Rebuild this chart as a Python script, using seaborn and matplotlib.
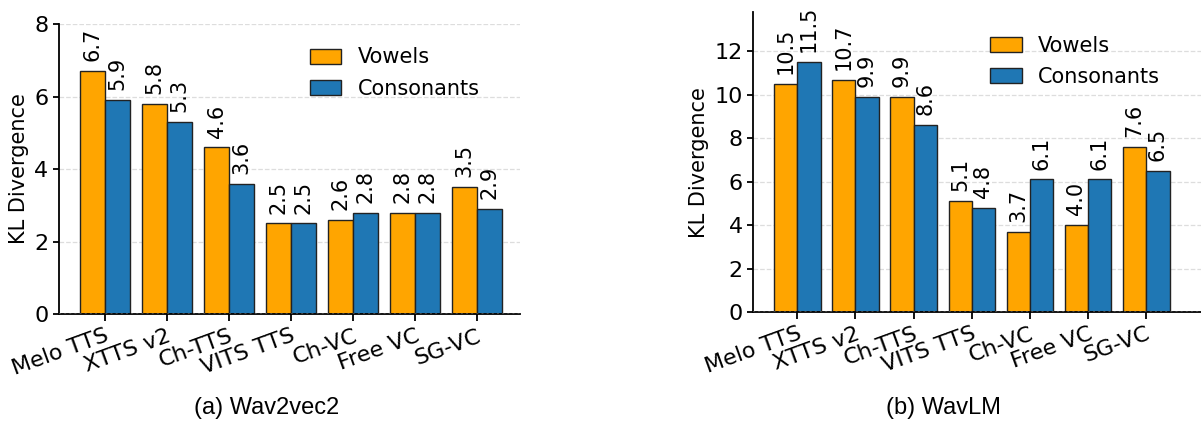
import pandas as pd
import numpy as np
import seaborn as sns
import matplotlib.pyplot as plt

# data
models = ['Melo TTS', 'XTTS v2', 'Ch-TTS', 'VITS TTS', 'Ch-VC', 'Free VC', 'SG-VC']
w2v_vowels = [6.7, 5.8, 4.6, 2.5, 2.6, 2.8, 3.5]
w2v_consonants = [5.9, 5.3, 3.6, 2.5, 2.8, 2.8, 2.9]
wavlm_vowels = [10.5, 10.7, 9.9, 5.1, 3.7, 4.0, 7.6]
wavlm_consonants = [11.5, 9.9, 8.6, 4.8, 6.1, 6.1, 6.5]
captions = ['(a) Wav2vec2', '(b) WavLM']

sns.set_style("ticks")
plt.rcParams['font.family'] = ['DejaVu Sans']
plt.rcParams['axes.linewidth'] = 1.3
plt.rcParams['xtick.major.width'] = 1.3
plt.rcParams['ytick.major.width'] = 1.3
plt.rcParams['xtick.major.size'] = 5
plt.rcParams['ytick.major.size'] = 4
plt.rcParams['xtick.color'] = 'black'
plt.rcParams['ytick.color'] = 'black'
plt.rcParams['axes.edgecolor'] = 'black'
plt.rcParams['text.color'] = 'black'
plt.rcParams['axes.labelcolor'] = 'black'

palette = {'Vowels': '#FFA500', 'Consonants': '#1F77B4'}


def make_df(vowels, consonants):
	df = pd.DataFrame({'model': models * 2,
		'type': ['Vowels'] * len(models) + ['Consonants'] * len(models),
		'kl': vowels + consonants})
	return df


def draw_panel(ax, df, ylim, yticks, xlim, legend_anchor):
	sns.barplot(data=df, x='model', y='kl', hue='type', palette=palette,
		width=0.8, edgecolor='#222222', linewidth=1.0, saturation=1, ax=ax, errorbar=None)
	ax.set_ylim(ylim)
	ax.set_xlim(xlim)
	ax.set_yticks(yticks)
	ax.yaxis.grid(True, linestyle='--', color='#DDDDDD', linewidth=0.9)
	ax.set_axisbelow(True)
	for c in ax.containers:
		ax.bar_label(c, fmt='%.1f', rotation=90, padding=7, fontsize=15, color='black')
	ax.axhline(0, color='#444444', linestyle=':', linewidth=1.4, zorder=5)
	sns.despine(ax=ax)
	ax.set_xlabel('')
	ax.set_ylabel('KL Divergence', fontsize=15)
	ax.tick_params(axis='y', labelsize=16)
	ax.set_xticks(range(len(models)))
	ax.set_xticklabels(models, rotation=20, ha='right', fontsize=16, rotation_mode='anchor')
	ax.legend(loc='upper left', bbox_to_anchor=legend_anchor, frameon=False, fontsize=15,
		handlelength=1.5, handleheight=0.75, handletextpad=0.8, labelspacing=0.55,
		borderaxespad=0)


fig = plt.figure(figsize=(12.01, 4.21), dpi=100)
ax1 = fig.add_axes([0.049, 0.254, 0.384, 0.689])
ax2 = fig.add_axes([0.627, 0.259, 0.373, 0.712])

draw_panel(ax1, make_df(w2v_vowels, w2v_consonants), (0, 8), [0, 2, 4, 6, 8],
	(-0.74, 6.69), (0.527, 0.948))
draw_panel(ax2, make_df(wavlm_vowels, wavlm_consonants), (0, 13.8), [0, 2, 4, 6, 8, 10, 12],
	(-0.76, 6.94), (0.511, 0.95))

fig.text(267 / 1201, 0.031, captions[0], ha='center', va='center', fontsize=17,
	family=['Liberation Sans', 'DejaVu Sans'])
fig.text(943 / 1201, 0.031, captions[1], ha='center', va='center', fontsize=17,
	family=['Liberation Sans', 'DejaVu Sans'])

plt.savefig('out.png', dpi=100)
